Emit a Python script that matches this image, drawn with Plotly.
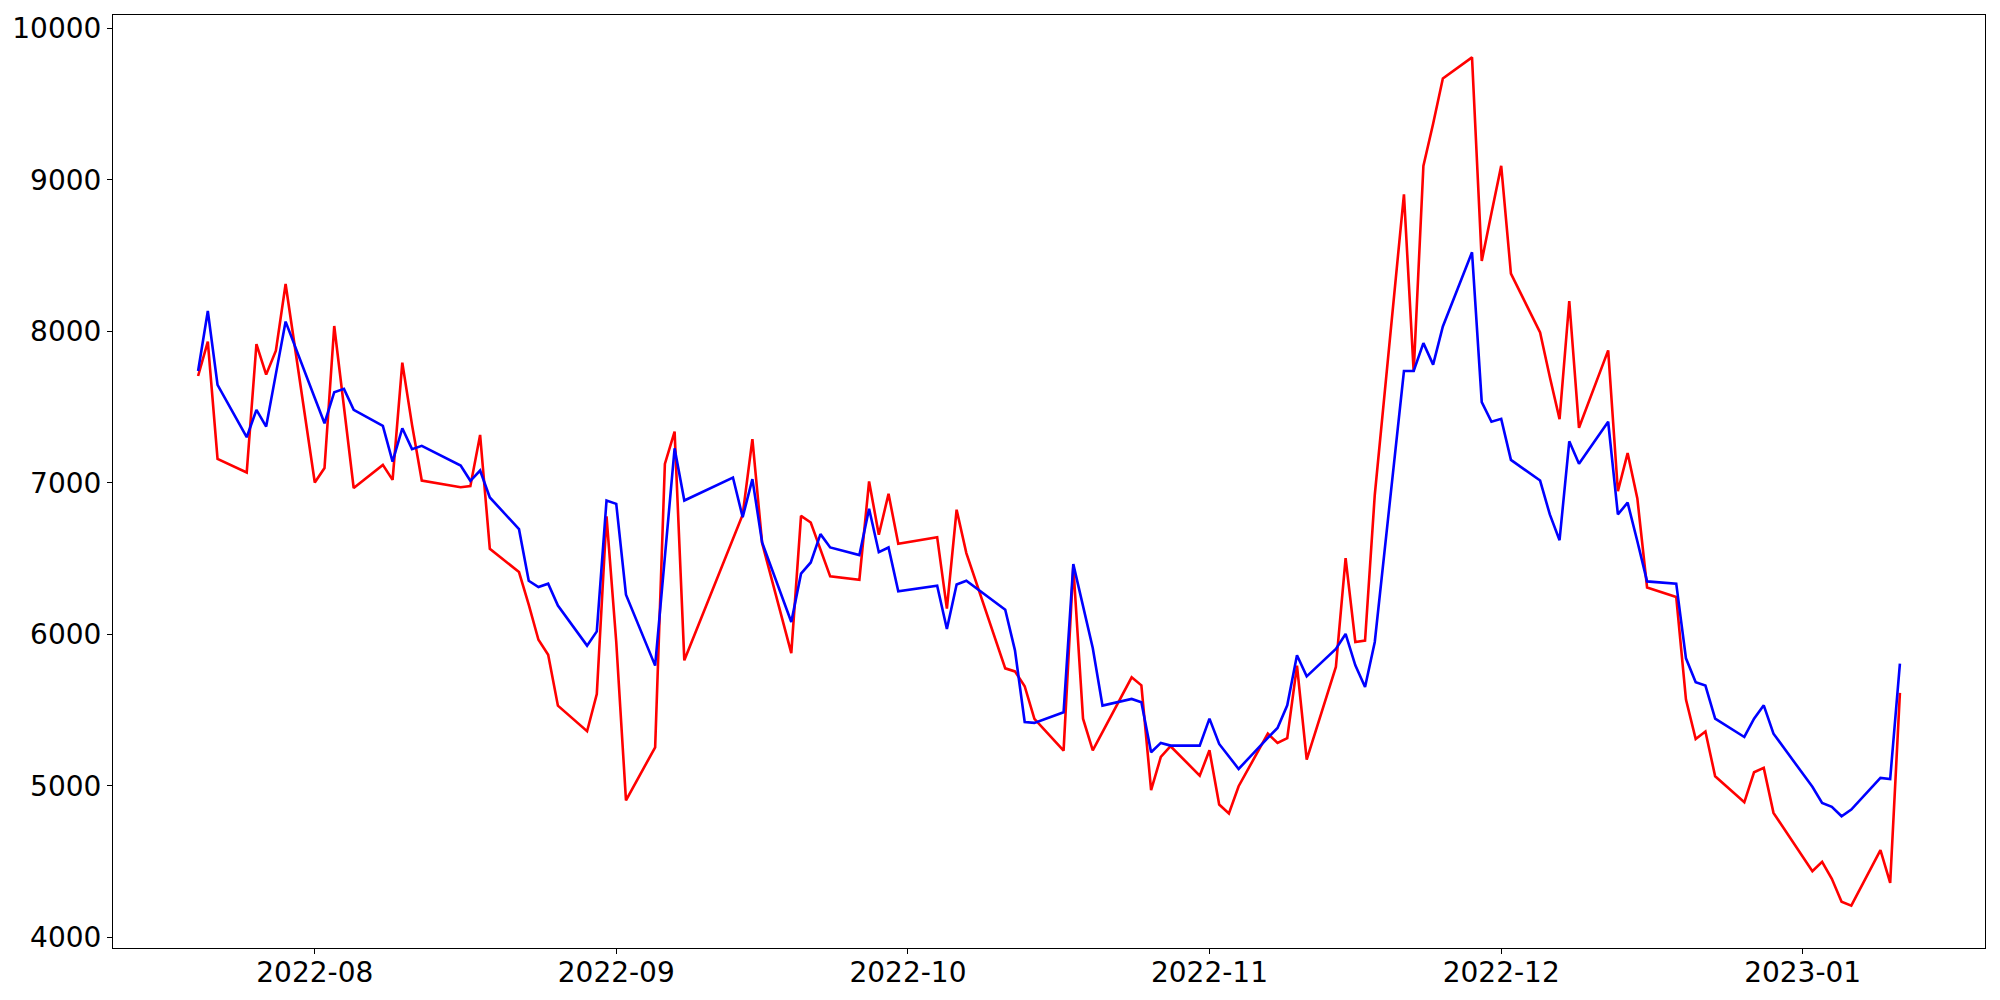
import pandas as pd
import plotly.graph_objects as go

dates = [
    "2022-07-20", "2022-07-21", "2022-07-22", "2022-07-25", "2022-07-26", "2022-07-27", "2022-07-28", "2022-07-29",
    "2022-08-01", "2022-08-02", "2022-08-03", "2022-08-04", "2022-08-05", "2022-08-08", "2022-08-09", "2022-08-10",
    "2022-08-11", "2022-08-12", "2022-08-16", "2022-08-17", "2022-08-18", "2022-08-19", "2022-08-22", "2022-08-23",
    "2022-08-24", "2022-08-25", "2022-08-26", "2022-08-29", "2022-08-30", "2022-08-31", "2022-09-01", "2022-09-02",
    "2022-09-05", "2022-09-06", "2022-09-07", "2022-09-08", "2022-09-13", "2022-09-14", "2022-09-15", "2022-09-16",
    "2022-09-19", "2022-09-20", "2022-09-21", "2022-09-22", "2022-09-23", "2022-09-26", "2022-09-27", "2022-09-28",
    "2022-09-29", "2022-09-30", "2022-10-04", "2022-10-05", "2022-10-06", "2022-10-07", "2022-10-11", "2022-10-12",
    "2022-10-13", "2022-10-14", "2022-10-17", "2022-10-18", "2022-10-19", "2022-10-20", "2022-10-21", "2022-10-24",
    "2022-10-25", "2022-10-26", "2022-10-27", "2022-10-28", "2022-10-31", "2022-11-01", "2022-11-02", "2022-11-03",
    "2022-11-04", "2022-11-07", "2022-11-08", "2022-11-09", "2022-11-10", "2022-11-11", "2022-11-14", "2022-11-15",
    "2022-11-16", "2022-11-17", "2022-11-18", "2022-11-21", "2022-11-22", "2022-11-23", "2022-11-24", "2022-11-25",
    "2022-11-28", "2022-11-29", "2022-11-30", "2022-12-01", "2022-12-02", "2022-12-05", "2022-12-06", "2022-12-07",
    "2022-12-08", "2022-12-09", "2022-12-12", "2022-12-13", "2022-12-14", "2022-12-15", "2022-12-16", "2022-12-19",
    "2022-12-20", "2022-12-21", "2022-12-22", "2022-12-23", "2022-12-26", "2022-12-27", "2022-12-28", "2022-12-29",
    "2023-01-02", "2023-01-03", "2023-01-04", "2023-01-05", "2023-01-06", "2023-01-09", "2023-01-10", "2023-01-11",
]

red_values = [
    7706, 7933, 7159, 7069, 7917, 7715, 7873, 8313,
    7003, 7098, 8036, 7520, 6966, 7119, 7020, 7794,
    7383, 7016, 6972, 6979, 7317, 6565, 6412, 6196,
    5965, 5866, 5530, 5361, 5607, 6779, 5950, 4905,
    5255, 7126, 7339, 5829, 6640, 6790, 7289, 6603,
    5877, 6783, 6739, 6563, 6383, 6361, 7010, 6658,
    6928, 6598, 6642, 6170, 6823, 6537, 5776, 5756,
    5658, 5442, 5233, 6450, 5444, 5235, 5355, 5717,
    5664, 4972, 5191, 5262, 5068, 5235, 4877, 4818,
    4998, 5345, 5284, 5315, 5794, 5174, 5785, 6504,
    5950, 5959, 6922, 8905, 7734, 9093, 9371, 9670,
    9809, 8465, 8782, 9093, 8382, 7993, 7699, 7421,
    8201, 7364, 7875, 6945, 7197, 6898, 6310, 6247,
    5570, 5310, 5359, 5064, 4892, 5090, 5119, 4822,
    4437, 4499, 4387, 4235, 4210, 4576, 4360, 5614,
]

blue_values = [
    7739, 8135, 7647, 7302, 7482, 7372, 7720, 8065,
    7561, 7394, 7599, 7621, 7482, 7377, 7141, 7361,
    7223, 7245, 7115, 7014, 7082, 6904, 6695, 6354,
    6313, 6335, 6190, 5926, 6020, 6884, 6862, 6262,
    5794, 6515, 7229, 6884, 7036, 6774, 7025, 6607,
    6082, 6401, 6475, 6662, 6574, 6524, 6829, 6543,
    6574, 6284, 6321, 6036, 6330, 6354, 6163, 5895,
    5422, 5416, 5486, 6464, 6185, 5910, 5530, 5574,
    5552, 5222, 5284, 5266, 5266, 5444, 5277, 5196,
    5112, 5317, 5383, 5532, 5862, 5723, 5904, 6003,
    5796, 5653, 5950, 7739, 7739, 7923, 7781, 8033,
    8523, 7534, 7404, 7423, 7152, 7016, 6792, 6622,
    7275, 7127, 7404, 6792, 6870, 6615, 6350, 6335,
    5842, 5684, 5662, 5444, 5323, 5444, 5532, 5345,
    4994, 4888, 4862, 4800, 4844, 5053, 5046, 5807,
]

y_ticks = [4000, 5000, 6000, 7000, 8000, 9000, 10000]

x = pd.to_datetime(dates)
fig = go.Figure()
fig.add_trace(go.Scatter(x=x, y=red_values, mode="lines",
                         line=dict(color="#ff0000", width=2.6), showlegend=False))
fig.add_trace(go.Scatter(x=x, y=blue_values, mode="lines",
                         line=dict(color="#0000ff", width=2.6), showlegend=False))

# matplotlib-like 5% margins
xmin, xmax = x.min(), x.max()
xpad = (xmax - xmin) * 0.05
allv = red_values + blue_values
ymin, ymax = min(allv), max(allv)
ypad = (ymax - ymin) * 0.05

axis_common = dict(
    showline=True, linecolor="black", linewidth=1.1, mirror=True,
    ticks="outside", ticklen=5, tickwidth=1.1, tickcolor="black",
    showgrid=False, zeroline=False, automargin=False,
    tickfont=dict(family="DejaVu Sans", size=28, color="black"),
)

fig.update_xaxes(range=[xmin - xpad, xmax + xpad], tickformat="%Y-%m",
                 dtick="M1", tick0="2022-08-01", ticklabelstandoff=-6,
                 **axis_common)
fig.update_yaxes(range=[ymin - ypad, ymax + ypad], tickvals=y_ticks,
                 tickformat="d", **axis_common)

# page body adds an 8px offset, so the figure is slightly smaller than the window
fig.update_layout(
    width=1992, height=992,
    margin=dict(l=105, r=15, t=7, b=52),
    paper_bgcolor="white", plot_bgcolor="white",
    font=dict(family="DejaVu Sans", color="black"),
)

fig.write_html("out.html")
